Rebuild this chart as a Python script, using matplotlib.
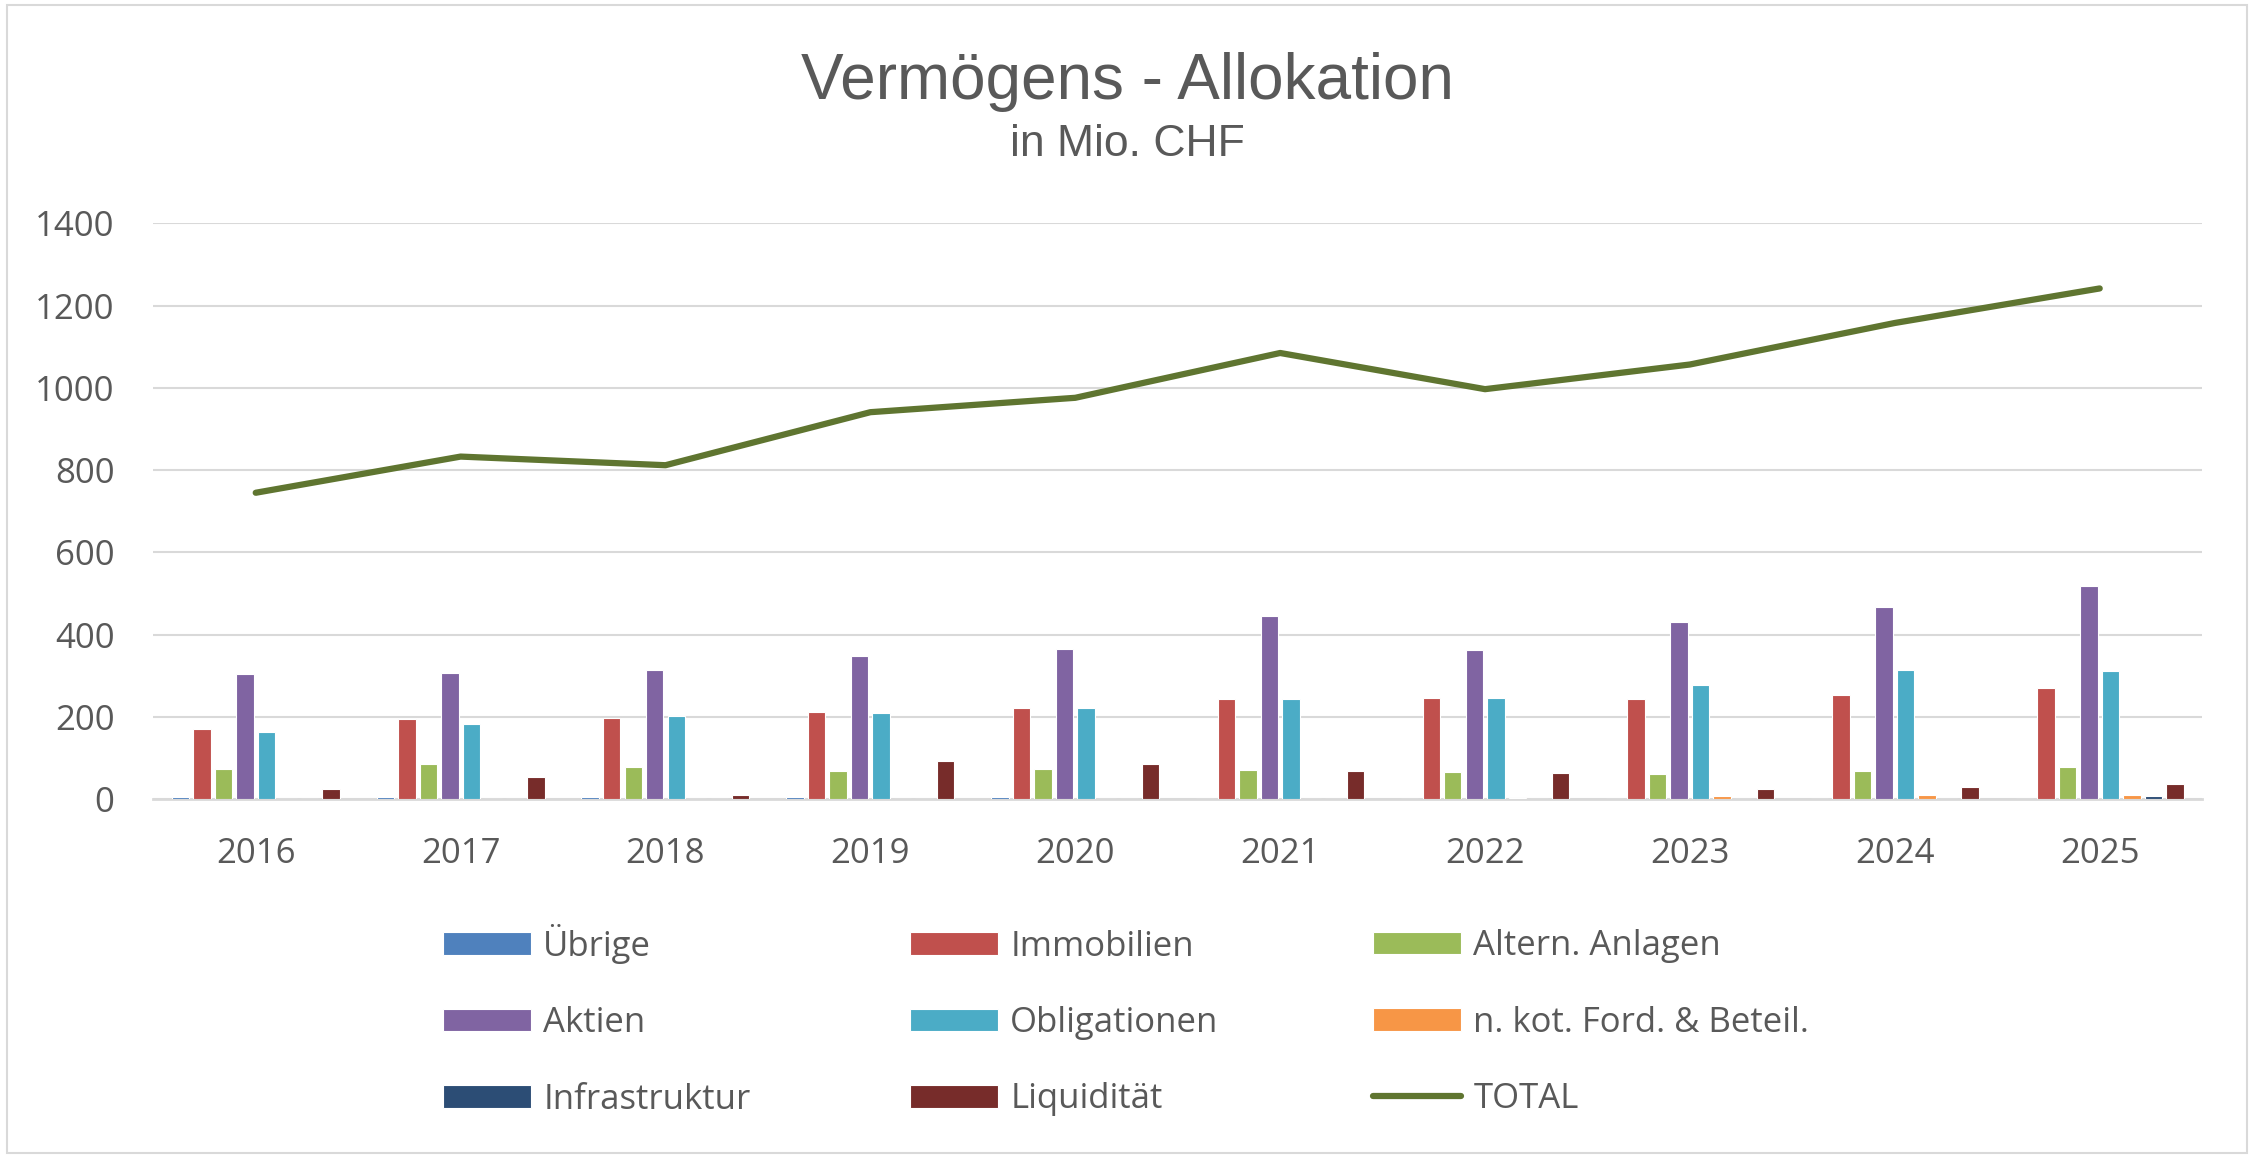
import matplotlib.pyplot as plt
import numpy as np
from matplotlib.patches import Rectangle

years = ['2016', '2017', '2018', '2019', '2020', '2021', '2022', '2023', '2024', '2025']

uebrige = [5, 5, 5, 5, 5, 0, 0, 0, 0, 0]
immobilien = [170, 194, 198, 212, 221, 243, 246, 244, 253, 271]
altern = [74, 86, 77, 69, 74, 71, 66, 62, 69, 79]
aktien = [304, 306, 314, 347, 364, 445, 362, 430, 467, 519]
obligationen = [163, 182, 202, 209, 221, 243, 246, 278, 315, 312]
nkot = [0, 0, 0, 0, 0, 0, 3, 7, 10, 10]
infrastruktur = [0, 0, 0, 0, 0, 0, 0, 0, 0, 7]
liquiditaet = [25, 54, 10, 93, 84, 68, 64, 25, 30, 37]
total = [745, 833, 812, 941, 976, 1085, 997, 1057, 1158, 1242]

series = [
    ('Übrige', uebrige, '#4f81bd'),
    ('Immobilien', immobilien, '#c0504d'),
    ('Altern. Anlagen', altern, '#9bbb59'),
    ('Aktien', aktien, '#8064a2'),
    ('Obligationen', obligationen, '#4bacc6'),
    ('n. kot. Ford. & Beteil.', nkot, '#f79646'),
    ('Infrastruktur', infrastruktur, '#2c4d75'),
    ('Liquidität', liquiditaet, '#772c2a'),
]

txt = '#595959'
grid = '#d9d9d9'

fig = plt.figure(figsize=(22.54, 11.58), dpi=100)
ax = fig.add_axes([0.068, 0.310, 0.909, 0.497])

x = np.arange(len(years))
pitch = 0.105
width = 0.085
handles = []
for i, (name, vals, col) in enumerate(series):
    off = (i - 3.5) * pitch
    b = ax.bar(x + off, vals, width, color=col, edgecolor='white', linewidth=0.8,
               label=name, zorder=3)
    handles.append(b)

line, = ax.plot(x, total, color='#5f7530', linewidth=4.5, label='TOTAL',
                solid_capstyle='round', zorder=4)
handles.append(line)

ax.set_xlim(-0.5, len(years) - 0.5)
ax.set_ylim(0, 1400)
ax.set_yticks(range(0, 1401, 200))
ax.set_xticks(x)
ax.set_xticklabels(years)
ax.grid(axis='y', color=grid, linewidth=1.5, zorder=0)
for s in ['top', 'right', 'left']:
    ax.spines[s].set_visible(False)
ax.spines['bottom'].set_color(grid)
ax.spines['bottom'].set_linewidth(2)
ax.tick_params(axis='both', length=0, labelsize=25, labelcolor=txt)
ax.tick_params(axis='y', pad=28)
ax.tick_params(axis='x', pad=27)
for lab in ax.get_xticklabels() + ax.get_yticklabels():
    lab.set_fontfamily('Open Sans')

fig.text(0.5, 0.929, 'Vermögens - Allokation', ha='center', va='center',
         fontsize=46, color=txt, family='Liberation Sans')
fig.text(0.5, 0.875, 'in Mio. CHF', ha='center', va='center',
         fontsize=32, color=txt, family='Liberation Sans')

# three one-column legends, placed at the column positions of the original
labels = [h.get_label() for h in handles]
col_x = [443 / 2254, 910 / 2254, 1373 / 2254]
col_y = [0.119, 0.1165, 0.117]
for c in range(3):
    idx = [c, c + 3, c + 6]
    leg = fig.legend([handles[i] for i in idx], [labels[i] for i in idx],
                     loc='center left', bbox_to_anchor=(col_x[c], col_y[c]),
                     frameon=False, borderpad=0, borderaxespad=0,
                     handlelength=2.54, handleheight=0.63, handletextpad=0.35,
                     labelspacing=1.22, prop={'family': 'Open Sans', 'size': 25})
    for t in leg.get_texts():
        t.set_color(txt)

fig.patches.append(Rectangle((0.003, 0.004), 0.994, 0.992, transform=fig.transFigure,
                             fill=False, edgecolor=grid, linewidth=1.5))

fig.savefig('out.png', dpi=100, facecolor='white')
